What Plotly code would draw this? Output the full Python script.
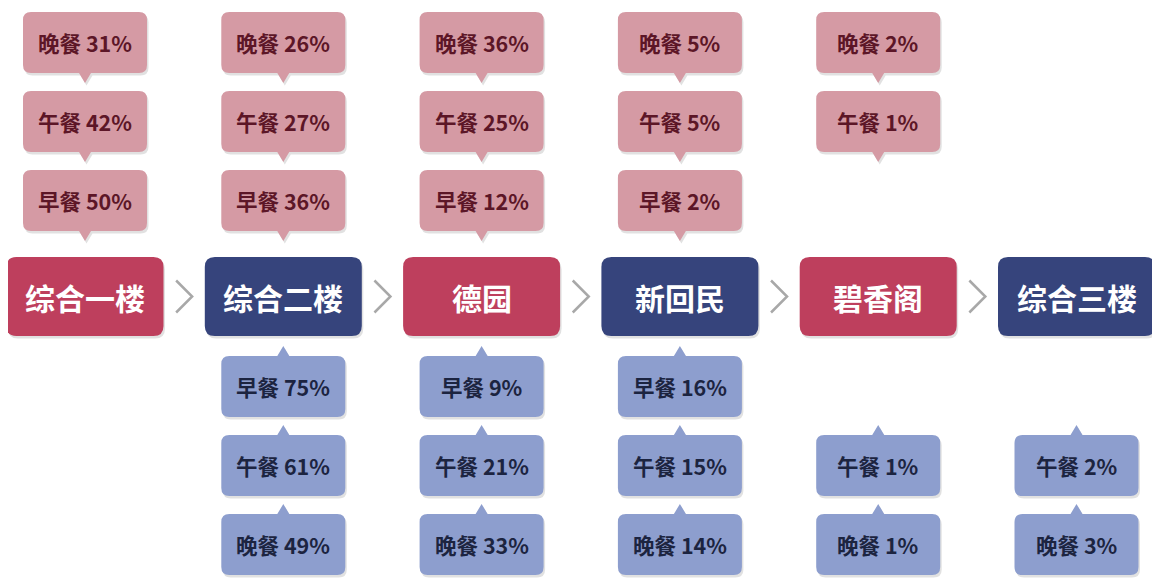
import plotly.graph_objects as go

# ---------------- data ----------------
categories = ["综合一楼", "综合二楼", "德园", "新回民", "碧香阁", "综合三楼"]
meal_labels = ["早餐", "午餐", "晚餐"]

# upper (pink) callouts: percentage per meal, None = no callout
upper_breakfast = [50, 36, 12, 2, None, None]
upper_lunch     = [42, 27, 25, 5, 1, None]
upper_dinner    = [31, 26, 36, 5, 2, None]

# lower (blue) callouts
lower_breakfast = [None, 75, 9, 16, None, None]
lower_lunch     = [None, 61, 21, 15, 1, 2]
lower_dinner    = [None, 49, 33, 14, 1, 3]

# ---------------- styling / layout constants ----------------
W, H = 1160, 585
OFF = 8  # page body margin
FONT = "Noto Sans CJK SC, Noto Sans, sans-serif"
RED, NAVY = "#be3f5d", "#36447c"
PINK_FILL, PINK_TEXT = "#d59aa4", "#5c1627"
BLUE_FILL, BLUE_TEXT = "#8d9ece", "#1c2440"
ARROW = "#a8a8a8"
SHADOW = "rgba(120,120,120,0.22)"

X0, STEP = 85, 198.3
MAIN_W, MAIN_H, MAIN_TOP = 157, 79, 257
CALL_W, CALL_H = 124, 61
UP_TOPS = [170, 91, 12]      # 早餐, 午餐, 晚餐 slots (nearest first)
LOW_TOPS = [356, 435, 514]
PTR_W, PTR_H = 12, 10


def rrect(x0, y0, x1, y1, r, ptr=None):
    """rounded rectangle path; ptr = 'down' or 'up' adds a triangle pointer"""
    cx = (x0 + x1) / 2
    p = f"M{x0+r},{y0} "
    if ptr == "up":
        p += f"L{cx-PTR_W/2},{y0} L{cx},{y0-PTR_H} L{cx+PTR_W/2},{y0} "
    p += f"L{x1-r},{y0} Q{x1},{y0} {x1},{y0+r} L{x1},{y1-r} Q{x1},{y1} {x1-r},{y1} "
    if ptr == "down":
        p += f"L{cx+PTR_W/2},{y1} L{cx},{y1+PTR_H} L{cx-PTR_W/2},{y1} "
    p += f"L{x0+r},{y1} Q{x0},{y1} {x0},{y1-r} L{x0},{y0+r} Q{x0},{y0} {x0+r},{y0} Z"
    return p


shapes, annotations = [], []


def add_box(x0, y0, x1, y1, r, fill, text, tcolor, size, ptr=None):
    shapes.append(dict(type="path", path=rrect(x0 + 1.5, y0 + 2.5, x1 + 1.5, y1 + 2.5, r, ptr),
                       fillcolor=SHADOW, line=dict(width=0), layer="below"))
    shapes.append(dict(type="path", path=rrect(x0, y0, x1, y1, r, ptr),
                       fillcolor=fill, line=dict(width=0), layer="below"))
    annotations.append(dict(x=(x0 + x1) / 2, y=(y0 + y1) / 2, text=f"<b>{text}</b>",
                            showarrow=False, xref="x", yref="y",
                            font=dict(family=FONT, size=size, color=tcolor)))


upper = [upper_breakfast, upper_lunch, upper_dinner]
lower = [lower_breakfast, lower_lunch, lower_dinner]

for i, cat in enumerate(categories):
    cx = X0 + i * STEP
    add_box(cx - MAIN_W / 2, MAIN_TOP, cx + MAIN_W / 2, MAIN_TOP + MAIN_H, 10,
            RED if i % 2 == 0 else NAVY, cat, "white", 30)
    for k in range(3):
        v = upper[k][i]
        if v is not None:
            t = UP_TOPS[k]
            add_box(cx - CALL_W / 2, t, cx + CALL_W / 2, t + CALL_H, 8,
                    PINK_FILL, f"{meal_labels[k]} {v}%", PINK_TEXT, 21.5, ptr="down")
        v = lower[k][i]
        if v is not None:
            t = LOW_TOPS[k]
            add_box(cx - CALL_W / 2, t, cx + CALL_W / 2, t + CALL_H, 8,
                    BLUE_FILL, f"{meal_labels[k]} {v}%", BLUE_TEXT, 21.5, ptr="up")
    if i < len(categories) - 1:
        ax = cx + STEP / 2
        ym = MAIN_TOP + MAIN_H / 2
        shapes.append(dict(type="path",
                           path=f"M{ax-8},{ym-16} L{ax+8},{ym} L{ax-8},{ym+16}",
                           line=dict(color=ARROW, width=2.5)))

fig = go.Figure()
fig.add_trace(go.Scatter(x=[OFF, W], y=[OFF, H], mode="markers",
                         marker=dict(opacity=0), hoverinfo="skip", showlegend=False))
fig.update_layout(
    width=W - OFF, height=H - OFF, margin=dict(l=0, r=0, t=0, b=0),
    paper_bgcolor="white", plot_bgcolor="white",
    xaxis=dict(range=[OFF, W], visible=False, fixedrange=True),
    yaxis=dict(range=[H, OFF], visible=False, fixedrange=True),
    shapes=shapes, annotations=annotations, showlegend=False,
)
fig.write_html("out.html")
